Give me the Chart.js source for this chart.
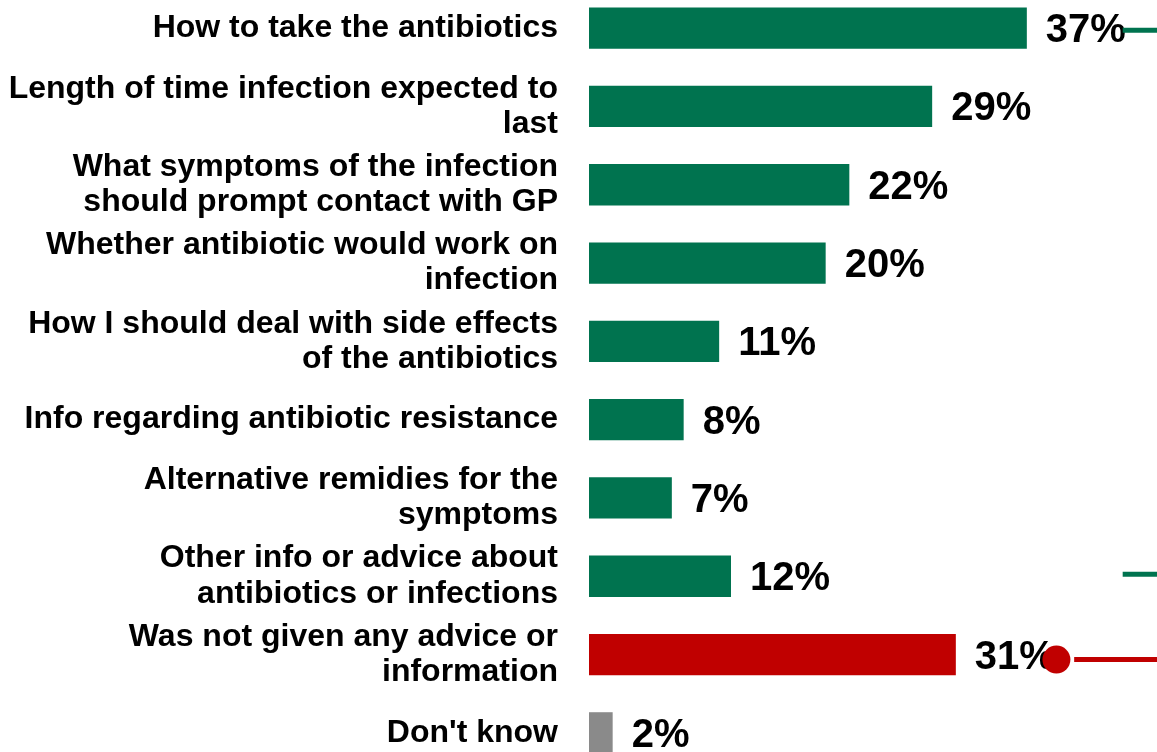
<!DOCTYPE html>
<html>
<head>
<meta charset="utf-8">
<script src="https://cdn.jsdelivr.net/npm/chart.js@4/dist/chart.umd.min.js"></script>
<style>
  html, body { margin: 0; padding: 0; background: #fff; overflow: hidden; }
  #wrap { position: absolute; left: 0; top: -11px; width: 1157px; height: 783px; }
</style>
</head>
<body>
<div id="wrap"><canvas id="chart"></canvas></div>
<script>
const categories = [
  "How to take the antibiotics",
  ["Length of time infection expected to", "last"],
  ["What symptoms of the infection", "should prompt contact with GP"],
  ["Whether antibiotic would work on", "infection"],
  ["How I should deal with side effects", "of the antibiotics"],
  "Info regarding antibiotic resistance",
  ["Alternative remidies for the", "symptoms"],
  ["Other info or advice about", "antibiotics or infections"],
  ["Was not given any advice or", "information"],
  "Don't know"
];
const values = [37, 29, 22, 20, 11, 8, 7, 12, 31, 2];

const GREEN = '#00734F';
const RED = '#C00000';
const GREY = '#8A8A8A';
const barColors = values.map((v, i) => i === 8 ? RED : (i === 9 ? GREY : GREEN));

// value labels to the right of each bar
const valueLabels = {
  id: 'valueLabels',
  afterDatasetsDraw(chart) {
    const ctx = chart.ctx;
    ctx.save();
    ctx.font = 'bold 40px "Liberation Sans", Arial, sans-serif';
    ctx.fillStyle = '#000';
    ctx.textBaseline = 'middle';
    ctx.textAlign = 'left';
    chart.getDatasetMeta(0).data.forEach((bar, i) => {
      ctx.fillText(values[i] + '%', bar.x + 19, bar.y + 3);
    });
    ctx.restore();
  }
};

// small marker strokes at the right edge
const edgeMarks = {
  id: 'edgeMarks',
  afterDraw(chart) {
    const ctx = chart.ctx;
    const x = chart.scales.x, y = chart.scales.y;
    const right = chart.width;
    ctx.save();
    ctx.lineWidth = 5;
    ctx.strokeStyle = GREEN;
    [0, 7].forEach(row => {
      const yy = y.getPixelForValue(row) + (row === 0 ? 2 : -2);
      ctx.beginPath();
      ctx.moveTo(x.getPixelForValue(45.1), yy);
      ctx.lineTo(right, yy);
      ctx.stroke();
    });
    const ry = y.getPixelForValue(8) + 5;
    ctx.strokeStyle = RED;
    ctx.beginPath();
    ctx.moveTo(x.getPixelForValue(41.0), ry);
    ctx.lineTo(right, ry);
    ctx.stroke();
    ctx.fillStyle = RED;
    ctx.beginPath();
    ctx.arc(x.getPixelForValue(39.5), ry, 14, 0, Math.PI * 2);
    ctx.fill();
    ctx.restore();
  }
};

new Chart(document.getElementById('chart'), {
  type: 'bar',
  data: {
    labels: categories,
    datasets: [{
      data: values,
      backgroundColor: barColors,
      borderWidth: 0,
      barPercentage: 1,
      categoryPercentage: 0.527
    }]
  },
  options: {
    indexAxis: 'y',
    responsive: true,
    maintainAspectRatio: false,
    animation: false,
    layout: { padding: 0 },
    plugins: { legend: { display: false }, tooltip: { enabled: false } },
    scales: {
      x: { display: false, min: 0, max: 48 },
      y: {
        grid: { display: false },
        border: { display: false },
        ticks: {
          color: '#000',
          padding: 23,
          autoSkip: false,
          font: { family: '"Liberation Sans", Arial, sans-serif', size: 32, weight: 'bold', lineHeight: 1.1 }
        },
        afterFit(scale) {
          scale.width = 589;
          scale.paddingTop = 0;
          scale.paddingBottom = 0;
        }
      }
    }
  },
  plugins: [valueLabels, edgeMarks]
});
</script>
</body>
</html>
